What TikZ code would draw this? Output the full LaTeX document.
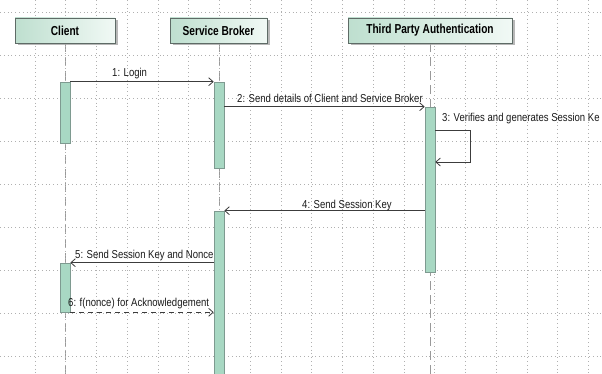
\documentclass[tikz,border=0pt]{standalone}
\usepackage{fontspec}
\setmainfont{Liberation Sans}
\newfontfamily\labfont[FakeStretch=0.83]{Liberation Sans}
\newfontfamily\headfont[FakeStretch=0.78]{Liberation Sans Bold}
\usetikzlibrary{arrows.meta,shadows,backgrounds}
\definecolor{boxL}{HTML}{BEDFCF}
\definecolor{boxR}{HTML}{F1F9F5}
\definecolor{boxB}{HTML}{5E6B66}
\definecolor{barF}{HTML}{A8D8C3}
\definecolor{barB}{HTML}{7E9A90}
\definecolor{msgC}{HTML}{3C3C3C}
\definecolor{gridC}{HTML}{B0B0B0}
\tikzset{
  headbox/.style={draw=boxB, line width=0.7pt, left color=boxL, right color=boxR,
    minimum height=25pt, inner sep=0pt,
    drop shadow={shadow xshift=2.5pt, shadow yshift=-2.5pt, fill=black!35, opacity=0.8},
    font=\headfont\fontsize{13}{15}\selectfont},
  actbar/.style={draw=barB, line width=0.6pt, fill=barF, minimum width=10pt, inner sep=0pt},
  lifeline/.style={draw=black!40, line width=0.8pt, dash pattern=on 9pt off 5pt},
  gridline/.style={draw=gridC, line width=0.6pt, dash pattern=on 0.6pt off 3.2pt},
  msg/.style={draw=msgC, line width=0.8pt, -{Straight Barb[length=4.5pt,width=8pt]}},
  reply/.style={msg, dash pattern=on 5pt off 4pt},
  msglabel/.style={font=\labfont\fontsize{11.5}{13}\selectfont, inner sep=0pt, anchor=base west, text=black!90}
}
\begin{document}
\begin{tikzpicture}[x=1pt,y=-1pt]
\useasboundingbox (0,0) rectangle (602,374);
\clip (0,0) rectangle (602,374);
% grid
\foreach \k in {0,...,18} {
  \draw[gridline] ({35+30.75*\k},0) -- ({35+30.75*\k},374);
}
\foreach \k in {0,...,8} {
  \draw[gridline] (0,{12+43*\k}) -- (602,{12+43*\k});
}
% head boxes
\node[headbox, minimum width=100pt] (client) at (65,30.5) {Client};
\node[headbox, minimum width=97pt] (broker) at (218.5,30.5) {Service Broker};
\node[headbox, minimum width=164pt] (tpa) at (430,30.5) {Third Party Authentication};
% lifeline ends
\coordinate (clientend) at (65,374);
\coordinate (brokerend) at (219,374);
\coordinate (tpaend) at (430,374);
% activation bars
\node[actbar, minimum height=61pt] (cb1) at (65,112.5) {};
\node[actbar, minimum height=49pt] (cb2) at (65,287.5) {};
\node[actbar, minimum height=86pt] (sb1) at (219,125) {};
\node[actbar, minimum height=169pt] (sb2) at (219,295.5) {};
\node[actbar, minimum height=165pt] (tp1) at (430,189.5) {};
\begin{scope}[on background layer]
  \draw[lifeline] (client.south) -- (clientend);
  \draw[lifeline] (broker.south -| brokerend) -- (brokerend);
  \draw[lifeline] (tpa.south) -- (tpaend);
\end{scope}
% messages
\draw[msg] (cb1.north east) -- (sb1.north west);
\node[msglabel] (l1) at (112,77) {1: Login};
\draw[msg] (sb1.east |- tp1.north) -- (tp1.north west);
\node[msglabel] (l2) at (237,103) {2: Send details of Client and Service Broker};
\coordinate (selfA) at (470,130);
\coordinate (selfB) at (470,162);
\draw[msg] (tp1.east |- selfA) -- (selfA) -- (selfB) -- (tp1.east |- selfB);
\node[msglabel] (l3) at (442,122) {3: Verifies and generates Session Ke};
\draw[msg] (tp1.west |- sb2.north) -- (sb2.north east);
\node[msglabel] (l4) at (302,208) {4: Send Session Key};
\draw[msg] (sb2.west |- cb2.north) -- (cb2.north east);
\node[msglabel] (l5) at (75,258) {5: Send Session Key and Nonce};
\draw[reply] (cb2.south east) -- (sb2.west |- cb2.south);
\node[msglabel] (l6) at (68,306) {6: f(nonce) for Acknowledgement};
\end{tikzpicture}
\end{document}
